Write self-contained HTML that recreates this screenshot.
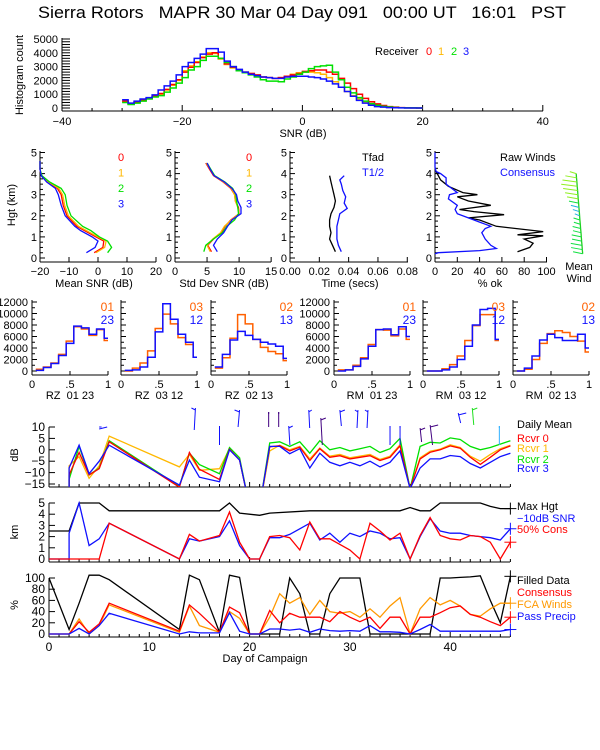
<!DOCTYPE html>
<html><head><meta charset="utf-8"><title>Sierra Rotors MAPR</title>
<style>
html,body{margin:0;padding:0;background:#fff;}
svg{display:block;font-family:"Liberation Sans",sans-serif;}
text{white-space:pre;}
</style></head>
<body>
<svg id="chart" width="600" height="750" viewBox="0 0 600 750" xmlns="http://www.w3.org/2000/svg">
<text x="38" y="18" font-size="17" fill="#000" textLength="528" lengthAdjust="spacingAndGlyphs" xml:space="preserve">Sierra Rotors   MAPR 30 Mar 04 Day 091   00:00 UT   16:01   PST</text>
</svg>
<script>
// ---------- DATA ----------
const histBins = []; for (let d = -30; d <= 19; d++) histBins.push(d);
const histRed = [500,300,450,600,700,850,1050,1350,1700,2050,2600,2950,3300,3650,3900,4000,3600,3200,2950,2750,2600,2500,2400,2250,2200,2150,2200,2300,2400,2500,2650,2700,2750,2750,2600,2450,2150,1800,1400,1000,700,450,300,180,100,60,30,15,5,0];
const histOrange = [450,300,420,560,680,820,1000,1300,1650,2000,2700,3050,3350,3700,4000,3950,3550,3150,2900,2750,2600,2500,2350,2250,2200,2150,2200,2300,2450,2550,2600,2600,2550,2450,2200,1900,1500,1200,900,650,450,300,200,120,70,40,20,10,5,0];
const histGreen = [400,250,350,500,650,800,900,1150,1450,1800,2200,2750,3000,3450,3750,3750,3600,3300,3000,2700,2550,2400,2250,2050,1950,1950,1900,2100,2250,2450,2600,2850,3000,3050,3100,2600,2050,1500,1100,750,500,320,200,120,70,40,20,10,5,0];
const histBlue = [600,350,500,650,750,950,1300,1600,1950,2400,3000,3300,3600,3900,4300,4300,4050,3400,3000,2800,2600,2450,2350,2250,2200,2150,2150,2250,2300,2300,2300,2250,2200,2100,1950,1750,1500,1200,850,550,350,200,100,60,30,15,5,0,0,0];
const histTicks = [-40,-20,0,20,40];
const histCountTicks = [0,1000,2000,3000,4000,5000];

const snrKm = [0.25,0.5,0.8,1.0,1.3,1.5,2.0,2.5,3.0,3.3,3.6,3.9,4.2,4.6];
const snrRed = [-1.3,1.7,2,-0.7,-4.7,-7.3,-10.7,-12,-12.7,-14,-17.3,-19.6,-20,-20];
const snrOrange = [-0.7,2.3,2.8,0,-4,-6.7,-10.2,-11.5,-12.2,-13.5,-17,-19.5,-20,-20];
const snrGreen = [3.3,4.7,3.3,0.5,-2.5,-5.3,-9.3,-10.7,-11.3,-12.7,-16.7,-19.3,-20,-20];
const snrBlue = [-4,-1,0,-2,-6,-8,-11.3,-12.7,-13.7,-14.7,-17.7,-19.6,-20,-20];

const sdKm = [0.3,0.6,0.9,1.2,1.5,1.8,2.1,2.4,2.7,3.0,3.3,3.6,3.9,4.2,4.5];
const sdRed = [5.7,5.1,6,7.2,7.8,8.7,10,9.9,9.4,9.3,8.7,7.5,6,5.4,4.8];
const sdOrange = [5.5,5.0,5.9,7.1,7.7,8.8,10,9.8,9.4,9.3,8.8,7.6,6.1,5.5,4.9];
const sdGreen = [4.5,4.8,6,7.4,8.1,9.3,9.9,9.8,9.6,9.5,9.0,7.8,6.2,5.6,5.0];
const sdBlue = [6.6,6,6.6,7.6,8.2,8.9,10.3,10.3,9.8,9.6,8.9,7.7,6.1,5.5,5.0];

const timeKm = [0.3,0.6,0.9,1.2,1.5,1.8,2.1,2.4,2.7,3.0,3.3,3.6,3.9];
const tfad = [0.031,0.029,0.027,0.028,0.027,0.027,0.028,0.030,0.031,0.030,0.029,0.028,0.027];
const tHalfKm = [0.3,0.6,0.9,1.2,1.5,1.8,2.1,2.35,2.6,2.9,3.2,3.5,3.7,3.9];
const tHalf = [0.035,0.033,0.032,0.032,0.032,0.033,0.034,0.039,0.037,0.038,0.036,0.035,0.034,0.037];

const rawKm = [0.3,0.5,0.7,0.9,1.05,1.1,1.25,1.5,1.8,1.9,2.05,2.2,2.3,2.5,2.7,2.9,3.0,3.1,3.4,3.7,4.0,4.2];
const rawPct = [74,85,88,80,97,74,97,55,40,30,62,35,22,50,30,20,38,25,12,5,2,0];
const consKm = [0.2,0.25,0.35,0.45,0.6,0.9,1.2,1.4,1.5,1.6,1.7,1.9,2.1,2.3,2.5,2.8,3.0,3.1,3.3,3.5,3.8,4.0,4.1,4.3,4.6,5.0];
const consPct = [0,3,40,55,50,45,42,45,50,45,40,30,20,18,20,12,13,20,15,10,10,5,1,0,0,0];

const windKm = [0.2,0.4,0.6,0.8,1.0,1.2,1.4,1.6,1.8,2.0,2.2,2.4,2.6,2.8,3.0,3.2,3.4,3.6,3.8,4.0];
const windSpeed = [6,7,7,6,6,5,5,4,4,3,4,5,6,7,8,9,10,9,7,4];

const binEdges = [0.05,0.15,0.25,0.35,0.45,0.55,0.65,0.75,0.85,0.95,1.0];
const pairNames = [["01","23"],["03","12"],["02","13"],["01","23"],["03","12"],["02","13"]];
const pairTitles = ["RZ  01 23","RZ  03 12","RZ  02 13","RM  01 23","RM  03 12","RM  02 13"];
const pairOrange = [
 [300,700,1400,2900,5200,7700,7300,6200,7200,5300],
 [0,500,1400,3500,7400,9900,8200,5800,4600,2400],
 [500,2300,5700,9800,8200,5500,4100,3400,3000,1800],
 [200,200,1000,2300,4600,7200,7100,6100,7300,5500],
 [0,0,400,1100,2600,5300,7900,9800,9800,5300],
 [0,300,2000,4800,6500,7000,6700,6000,5200,3300]];
const pairBlue = [
 [100,600,1300,2700,4800,7800,7500,6400,7300,5700],
 [100,200,700,2400,6800,11700,9000,6400,5000,2400],
 [700,2900,5400,6900,6200,5500,5000,4700,4300,2200],
 [0,200,800,2100,4300,7200,7300,6300,7700,6000],
 [0,0,200,700,2000,4300,8000,10700,10900,5500],
 [0,500,2600,5400,6400,5800,5300,5300,6400,4000]];
const pairTicks = [0,2000,4000,6000,8000,10000,12000];

const snrDays = [2,2,3,4,5,6,13,14,15,17,18,19,20,21,22,23,24,25,26,27,28,29,30,31,32,33,34,35,36,37,38,39,40,41,42,43,44,45,46];
const rcvr0 = [-20,-11,-1.2,-11,-8.3,3.5,-16.4,-1.2,-8.5,-13,0.2,-4.5,-25,-25,1.3,1.8,-0.5,1.2,-4.7,0.5,-3.3,-2.6,-4,-3.3,-2.6,-4.7,-3.3,1.7,-17,-4,-1.1,0,1.7,0.7,-3.3,-6.4,-3.3,0,1.7];
const rcvr1 = [-20,-7,-3,-12.5,-7,6,-7.5,-2,-9,-8.3,0.5,-4.5,-25,-25,-0.5,2,0,1.5,-4,0.8,-2.8,-2,-3.5,-2.8,-2,-4.2,-2.8,2.2,-17,-3.5,-0.6,0.3,2.2,1,-2.8,-5,-2,0.5,2];
const rcvr2 = [-20,-13,1.5,-11,-8,4,-16,-1.5,-6.5,-10.5,1,-3.5,-25,-25,3,3.5,1.5,3.5,-1.5,4,0,1,-0.5,0.5,1.5,-1.2,0.5,5,-17,1.5,3.3,3,5.2,4.5,1.5,0,1,2.5,4];
const rcvr3 = [-20,-8,2,-10.5,-5,2,-15.5,-4.5,-12,-14,0,-4.5,-25,-25,1.5,1.5,-1.7,0.5,-8,-1.5,-5.5,-7,-5.5,-7,-5,-7.5,-5.5,-0.5,-17,-8,-4,-4,-2.5,-3,-6,-8,-5.5,-3,-1.5];
const dbTicks = [-15,-10,-5,0,5,10];

const maxHgtDays = [0,2,3,5,6,17,18,19,21,22,26,35,36,37,38,39,43,44,45,46];
const maxHgt = [2.5,2.5,5,5,4.3,4.3,5,4.1,3.9,4.1,4.3,4.3,4.6,4.3,4.3,5,5,4.7,4.5,4.5];
const hgtDays = [0,2,2,3,4,5,6,13,14,15,17,18,19,20,21,22,23,24,25,26,27,28,29,30,31,32,33,34,35,36,37,38,39,40,41,42,43,44,45,46];
const snr10Hgt = [0,0,2.3,5,1.2,1.8,3.2,0,1.8,1.6,2.0,3.4,1.2,0,0,1.9,1.9,2.2,2.7,3.2,1.7,2.3,1.5,2.3,2.0,2.5,2.3,1.8,1.9,0,2,3.6,2.5,2.3,2.3,2.1,2.0,1.9,1.7,2.7];
const cons50Hgt = [0,0,0,0,0,0,3.2,0,2.2,1.6,2.1,4.2,1.5,0,0,2.0,2.1,1.9,0.8,3.3,1.8,1.8,1.3,0.8,0,3.2,2.5,1.7,2.3,0,2.1,3.7,2.1,1.8,1.7,2.1,2.0,1.5,0,1.5];
const kmTicks = [0,1,2,3,4,5];

const pctDays = [0,2,3,4,5,6,13,14,15,17,18,19,20,21,22,23,24,25,26,27,28,29,30,31,32,33,34,35,36,37,38,39,40,41,42,43,44,45,46];
const filledPct = [100,8,55,105,105,97,8,105,97,3,105,101,0,0,0,0,100,72,0,0,72,100,100,100,0,0,0,0,0,0,0,100,100,101,102,104,60,20,103];
const consensusPct = [0,0,22,3,18,55,5,52,37,3,48,38,0,0,42,20,37,30,30,30,22,40,30,22,30,10,30,30,0,30,30,38,47,50,35,30,22,15,30];
const fcaPct = [0,0,27,0,15,52,3,50,15,3,40,28,0,0,30,72,55,65,35,60,40,37,40,30,45,30,50,65,0,45,65,52,60,50,35,32,45,55,55];
const precipPct = [0,0,10,0,15,37,0,4,2,2,38,5,0,0,9,9,7,9,3,9,6,5,6,5,15,4,4,3,0,8,17,5,5,5,5,5,5,5,8];
const pctTicks = [0,20,40,60,80,100];
const dayTicks = [0,10,20,30,40];

// top wind barbs: [day, yTop, yBottom, barbDx, color]
const topBarbs = [[5,427,427,8,"#1010ff"],[14.6,408,430,-4,"#1010ff"],[17,426,445,0,"#1010ff"],[19,410,427,-5,"#1010ff"],[21.9,412,427,0,"#400080"],[22.9,412,427,0,"#400080"],[23.9,426,445,4,"#1010ff"],[25.9,410,428,3,"#1010ff"],[27.1,418,445,5,"#400080"],[29,410,426,5,"#1010ff"],[30.8,410,428,-3,"#1010ff"],[31.8,410,428,-3,"#1010ff"],[34,426,445,0,"#1010ff"],[35,426,445,0,"#1010ff"],[37,428,442,5,"#400080"],[38,425,445,8,"#400080"],[40.8,413,423,8,"#1010ff"],[42.2,408,425,5,"#20e020"],[44.9,426,445,0,"#30b0ff"]];

// ---------- DRAW HELPERS ----------
const NS = "http://www.w3.org/2000/svg";
const svg = document.getElementById("chart");
function el(tag, attrs, name, parent) {
  const e = document.createElementNS(NS, tag);
  for (const k in attrs) e.setAttribute(k, attrs[k]);
  
  
  (parent || svg).appendChild(e);
  return e;
}
function txt(x, y, s, name, opt) {
  opt = opt || {};
  const t = el("text", {x: x, y: y, "font-size": opt.size || 11, fill: opt.fill || "#000", "text-anchor": opt.anchor || "start"}, name, opt.parent);
  if (opt.rot) t.setAttribute("transform", "rotate(-90 " + x + " " + y + ")");
  t.textContent = s;
  return t;
}
function line(x1, y1, x2, y2, name, color, parent) {
  return el("line", {x1: x1, y1: y1, x2: x2, y2: y2, stroke: color || "#000", "stroke-width": 1}, name, parent);
}
function poly(xs, ys, fx, fy, color, name, parent) {
  const pts = xs.map((v, i) => fx(v).toFixed(1) + "," + fy(ys[i]).toFixed(1)).join(" ");
  return el("polyline", {points: pts, fill: "none", stroke: color, "stroke-width": 1.3}, name, parent);
}
function steps(edges, vals, fx, fy, color, name, parent) {
  let pts = [];
  vals.forEach((v, i) => { pts.push(fx(edges[i]) + "," + fy(v)); pts.push(fx(edges[i + 1]) + "," + fy(v)); });
  return el("polyline", {points: pts.join(" "), fill: "none", stroke: color, "stroke-width": 1.5}, name, parent);
}
function clip(id, x, y, w, h) {
  const cp = el("clipPath", {id: id}, id + "-region");
  el("rect", {x: x, y: y, width: w, height: h}, id + "-rect", cp);
  return el("g", {"clip-path": "url(#" + id + ")"}, id + "-group");
}
const RED = "#ff0000", ORG = "#ffb800", GRN = "#00e000", BLU = "#1010ff", OR2 = "#ff6000", FCA = "#ff9900";

// ---------- HISTOGRAM ----------
const hX = d => 62 + (d + 40) * 6.01;
const hY = c => 108 - c * 0.0138;
line(62, 38, 62, 111, "histogram-y-axis");
line(62, 111, 543, 111, "histogram-x-axis");
for (let c = 0; c <= 5000; c += 200) line(62, hY(c), 70, hY(c), "histogram-y-tick");
for (let d = -40; d <= 40; d += 5) line(hX(d), 111, hX(d), d % 20 === 0 ? 105 : 108, "histogram-x-tick");
histTicks.forEach(d => txt(hX(d), 125, String(d).replace("-", "\u2212"), "histogram-x-tick-label", {anchor: "middle"}));
histCountTicks.forEach(c => txt(58, hY(c) + 4, String(c), "histogram-y-tick-label", {anchor: "end"}));
txt(23, 75, "Histogram count", "histogram-y-axis-title", {rot: true, anchor: "middle"});
txt(303, 137, "SNR (dB)", "histogram-x-axis-title", {anchor: "middle"});
const he = histBins.concat([20]);
steps(he, histOrange, hX, hY, ORG, "histogram-receiver-1");
steps(he, histRed, hX, hY, RED, "histogram-receiver-0");
steps(he, histGreen, hX, hY, GRN, "histogram-receiver-2");
steps(he, histBlue, hX, hY, BLU, "histogram-receiver-3");
txt(375, 55, "Receiver", "histogram-legend-title");
txt(426, 55, "0", "histogram-legend-0", {fill: RED});
txt(438, 55, "1", "histogram-legend-1", {fill: ORG});
txt(451, 55, "2", "histogram-legend-2", {fill: GRN});
txt(463, 55, "3", "histogram-legend-3", {fill: BLU});

// ---------- PROFILES ----------
const kY = k => 258 - 21.1 * k;
function pAxes(ax, wd, vals, lbls, fx, title, tcx, key) {
  line(ax, 151, ax, 262, key + "-y-axis");
  line(ax, 262, ax + wd, 262, key + "-x-axis");
  for (let k = 0; k <= 5.01; k += 0.25) line(ax, kY(k), ax + (Math.abs(k - Math.round(k)) < 0.01 ? 5 : 3), kY(k), key + "-y-tick");
  [0,1,2,3,4,5].forEach(k => txt(ax - 3, kY(k) + 4, String(k), key + "-y-tick-label", {anchor: "end"}));
  vals.forEach((v, i) => { line(fx(v), 262, fx(v), 257, key + "-x-tick"); txt(fx(v), 275, lbls[i], key + "-x-tick-label", {anchor: "middle"}); });
  txt(tcx, 287, title, key + "-x-axis-title", {anchor: "middle"});
}
const xA = v => 40 + (v + 20) * 2.9;
const snrTicks = [-20,-10,0,10,20];
pAxes(40, 116, snrTicks, snrTicks.map(v => String(v).replace("-", "\u2212")), xA, "Mean SNR (dB)", 94, "mean-snr");
txt(15, 205, "Hgt (km)", "height-axis-title", {rot: true, anchor: "middle"});
poly(snrRed, snrKm, xA, kY, RED, "mean-snr-rcvr-0");
poly(snrOrange, snrKm, xA, kY, ORG, "mean-snr-rcvr-1");
poly(snrGreen, snrKm, xA, kY, GRN, "mean-snr-rcvr-2");
poly(snrBlue, snrKm, xA, kY, BLU, "mean-snr-rcvr-3");
[["0",RED],["1",ORG],["2",GRN],["3",BLU]].forEach((a, i) => { txt(118, 161 + i * 15.5, a[0], "mean-snr-legend-" + a[0], {fill: a[1]}); txt(246, 161 + i * 15.5, a[0], "std-snr-legend-" + a[0], {fill: a[1]}); });

const xB = v => 175 + v * 6.41;
const sdTicks = [0,5,10,15];
pAxes(175, 96, sdTicks, sdTicks.map(String), xB, "Std Dev SNR (dB)", 224, "std-snr");
poly(sdRed, sdKm, xB, kY, RED, "std-snr-rcvr-0");
poly(sdOrange, sdKm, xB, kY, ORG, "std-snr-rcvr-1");
poly(sdGreen, sdKm, xB, kY, GRN, "std-snr-rcvr-2");
poly(sdBlue, sdKm, xB, kY, BLU, "std-snr-rcvr-3");

const xC = v => 290 + v * 1466;
const tTicks = [0,0.02,0.04,0.06,0.08];
pAxes(290, 118, tTicks, tTicks.map(v => v.toFixed(2)), xC, "Time (secs)", 350, "time");
poly(tfad, timeKm, xC, kY, "#000", "time-tfad-line");
poly(tHalf, tHalfKm, xC, kY, BLU, "time-thalf-line");
txt(362, 161, "Tfad", "time-legend-tfad");
txt(362, 176, "T1/2", "time-legend-thalf", {fill: BLU});

const xD = v => 435 + v * 1.115;
const pctOkTicks = [0,20,40,60,80,100];
pAxes(435, 112, pctOkTicks, pctOkTicks.map(String), xD, "% ok", 490, "percent-ok");
poly(rawPct, rawKm, xD, kY, "#000", "raw-winds-line");
poly(consPct, consKm, xD, kY, BLU, "consensus-line");
txt(500, 161, "Raw Winds", "percent-ok-legend-raw");
txt(500, 176, "Consensus", "percent-ok-legend-consensus", {fill: BLU});

// mean wind barbs
const wg = el("g", {}, "mean-wind-barbs");
const spX = k => 583 - k * 1.7;
poly(windKm, windKm, spX, kY, "#20d020", "mean-wind-staff", wg);
windKm.forEach((k, i) => {
  const col = k > 2.6 ? "#90f020" : (k > 1.9 && k < 2.5 ? "#20b0e0" : "#10e040");
  line(spX(k), kY(k), spX(k) - windSpeed[i] * 1.6, kY(k) - 2, "mean-wind-barb", col, wg);
});
txt(579, 270, "Mean", "mean-wind-label-1", {anchor: "middle"});
txt(579, 282, "Wind", "mean-wind-label-2", {anchor: "middle"});

// ---------- PAIR HISTOGRAMS ----------
const pAx = [32, 121, 211, 334, 423, 513];
const pY = c => 371 - c * 0.00575;
pAx.forEach((ax, p) => {
  const fx = v => ax + v * 76;
  const g = el("g", {}, "pair-histogram-" + (p + 1));
  line(ax, 300, ax, 375, "pair-y-axis", "#000", g);
  line(ax, 375, ax + 76, 375, "pair-x-axis", "#000", g);
  for (let c = 0; c <= 12000; c += 1000) line(ax, pY(c), ax + (c % 2000 === 0 ? 5 : 3), pY(c), "pair-y-tick", "#000", g);
  [0, 0.5, 1].forEach((v, i) => { line(fx(v), 375, fx(v), 371, "pair-x-tick", "#000", g); txt(fx(v), 388, ["0", ".5", "1"][i], "pair-x-tick-label", {anchor: "middle", parent: g}); });
  if (p === 0 || p === 3) pairTicks.forEach(c => txt(ax - 4, pY(c) + 4, String(c), "pair-y-tick-label", {anchor: "end", parent: g}));
  steps(binEdges, pairOrange[p], fx, pY, OR2, "pair-series-a", g);
  steps(binEdges, pairBlue[p], fx, pY, BLU, "pair-series-b", g);
  txt(ax + 82, 311, pairNames[p][0], "pair-legend-a", {anchor: "end", fill: OR2, size: 12, parent: g});
  txt(ax + 82, 324, pairNames[p][1], "pair-legend-b", {anchor: "end", fill: BLU, size: 12, parent: g});
  txt(ax + 38, 399, pairTitles[p], "pair-title", {anchor: "middle", parent: g});
});

// ---------- TIME SERIES ----------
const dX = d => 49 + d * 10.03;
function tsAxes(top, bottom, vy, ticks, lbls, key, title, ty) {
  line(49, top, 49, bottom, key + "-y-axis");
  line(49, bottom, 510, bottom, key + "-x-axis");
  for (let d = 0; d <= 46; d++) line(dX(d), bottom, dX(d), bottom - (d % 10 === 0 ? 5 : 3), key + "-x-tick");
  ticks.forEach((t, i) => { line(49, vy(t), 55, vy(t), key + "-y-tick"); txt(45, vy(t) + 4, lbls[i], key + "-y-tick-label", {anchor: "end", size: 12}); });
  txt(18, ty, title, key + "-y-axis-title", {rot: true, anchor: "middle"});
}
const dbY = v => 484 - (v + 15) * 2.28;
tsAxes(427, 487, dbY, dbTicks, dbTicks.map(v => String(v).replace("-", "\u2212")), "daily-snr", "dB", 455);
const g1 = clip("snr-clip", 49, 415, 465, 72);
poly(snrDays, rcvr1, dX, dbY, ORG, "rcvr-1-line", g1);
poly(snrDays, rcvr2, dX, dbY, GRN, "rcvr-2-line", g1);
poly(snrDays, rcvr0, dX, dbY, RED, "rcvr-0-line", g1);
poly(snrDays, rcvr3, dX, dbY, BLU, "rcvr-3-line", g1);
topBarbs.forEach(b => {
  line(dX(b[0]), b[1], dX(b[0]) + b[3] * 0.3, b[2], "wind-barb-staff", b[4]);
  line(dX(b[0]), b[1] + 2, dX(b[0]) + b[3], b[1], "wind-barb-flag", b[4]);
});
txt(517, 428, "Daily Mean", "legend-daily-mean");
txt(517, 442, "Rcvr 0", "legend-rcvr-0", {fill: RED});
txt(517, 452, "Rcvr 1", "legend-rcvr-1", {fill: ORG});
txt(517, 463, "Rcvr 2", "legend-rcvr-2", {fill: GRN});
txt(517, 472, "Rcvr 3", "legend-rcvr-3", {fill: BLU});

const kmY = k => 559 - k * 11.2;
tsAxes(503, 562, kmY, kmTicks, kmTicks.map(String), "height", "km", 532);
poly(maxHgtDays, maxHgt, dX, kmY, "#000", "max-height-line");
poly(hgtDays, snr10Hgt, dX, kmY, BLU, "snr10-height-line");
poly(hgtDays, cons50Hgt, dX, kmY, RED, "cons50-height-line");
function plus(d, v, fy, col, name) { const x = dX(d), y = fy(v); line(x - 6, y, x + 6, y, name, col); line(x, y - 6, x, y + 6, name, col); }
plus(46, maxHgt[maxHgt.length - 1], kmY, "#000", "max-height-marker");
plus(46, snr10Hgt[snr10Hgt.length - 1], kmY, BLU, "snr10-marker");
plus(46, cons50Hgt[cons50Hgt.length - 1], kmY, RED, "cons50-marker");
txt(517, 510, "Max Hgt", "legend-max-hgt");
txt(517, 522, "\u221210dB SNR", "legend-snr10", {fill: BLU});
txt(517, 533, "50% Cons", "legend-cons50", {fill: RED});

const pcY = p => 634 - p * 0.56;
tsAxes(578, 637, pcY, pctTicks, pctTicks.map(String), "percent", "%", 605);
dayTicks.forEach(d => txt(dX(d), 651, String(d), "day-tick-label", {anchor: "middle", size: 12}));
txt(265, 662, "Day of Campaign", "day-axis-title", {anchor: "middle"});
poly(pctDays, filledPct, dX, pcY, "#000", "filled-data-line");
poly(pctDays, fcaPct, dX, pcY, FCA, "fca-winds-line");
poly(pctDays, consensusPct, dX, pcY, RED, "consensus-pct-line");
poly(pctDays, precipPct, dX, pcY, BLU, "pass-precip-line");
plus(46, filledPct[filledPct.length - 1], pcY, "#000", "filled-marker");
plus(46, fcaPct[fcaPct.length - 1], pcY, FCA, "fca-marker");
plus(46, consensusPct[consensusPct.length - 1], pcY, RED, "consensus-marker");
plus(46, precipPct[precipPct.length - 1], pcY, BLU, "precip-marker");
txt(517, 584, "Filled Data", "legend-filled-data");
txt(517, 596, "Consensus", "legend-consensus", {fill: RED});
txt(517, 608, "FCA Winds", "legend-fca-winds", {fill: FCA});
txt(517, 620, "Pass Precip", "legend-pass-precip", {fill: BLU});
</script>
</body></html>
